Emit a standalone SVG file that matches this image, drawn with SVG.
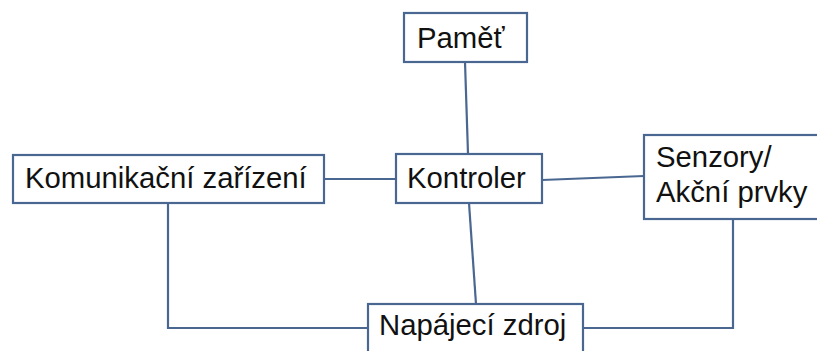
<svg xmlns="http://www.w3.org/2000/svg" width="817" height="351" viewBox="0 0 817 351">
  <style>
    .box { fill: #ffffff; stroke: #4a6791; stroke-width: 2.2; }
    .wire { fill: none; stroke: #4a6791; stroke-width: 2.2; }
    .label { font-family: "Liberation Sans", Arial, sans-serif; font-size: 29.3px; fill: #111111; }
  </style>
  <rect width="817" height="351" fill="#ffffff"/>

  <!-- connectors -->
  <g id="connectors">
    <line class="wire" x1="465" y1="62" x2="468" y2="154"/>
    <line class="wire" x1="324" y1="179" x2="396" y2="179"/>
    <line class="wire" x1="542" y1="180" x2="644" y2="176"/>
    <line class="wire" x1="469" y1="203" x2="476" y2="304"/>
    <polyline class="wire" points="168,203 168,328 368,328"/>
    <polyline class="wire" points="583,328 733,328 733,219"/>
  </g>

  <g id="pamet">
    <rect class="box" x="404" y="13" width="123" height="49"/>
    <text class="label" x="417" y="48">Paměť</text>
  </g>

  <g id="komunikacni-zarizeni">
    <rect class="box" x="13" y="155" width="311" height="48"/>
    <text class="label" x="25" y="188">Komunikační zařízení</text>
  </g>

  <g id="kontroler">
    <rect class="box" x="396" y="154" width="146" height="49"/>
    <text class="label" x="407" y="188">Kontroler</text>
  </g>

  <g id="senzory">
    <rect class="box" x="644" y="135" width="180" height="84"/>
    <text class="label" x="656" y="167">Senzory/</text>
    <text class="label" x="656" y="202">Akční prvky</text>
  </g>

  <g id="napajeci-zdroj">
    <rect class="box" x="368" y="304" width="215" height="60"/>
    <text class="label" x="379" y="335">Napájecí zdroj</text>
  </g>
</svg>
